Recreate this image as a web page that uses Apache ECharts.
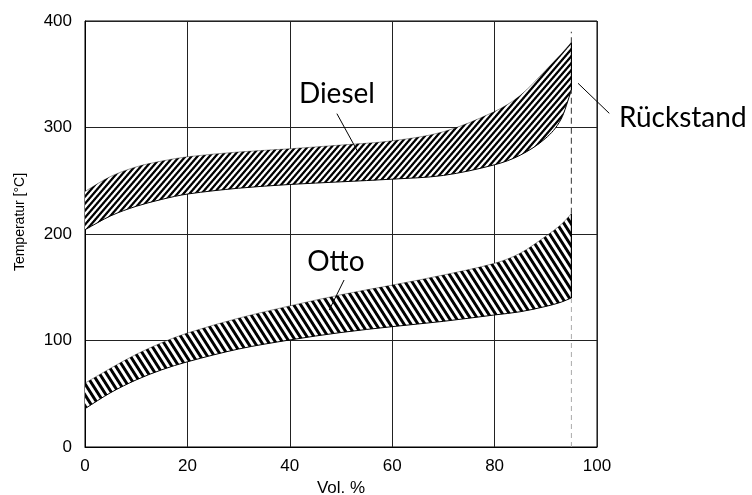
<!DOCTYPE html>
<html>
<head>
<meta charset="utf-8">
<script src="https://cdn.jsdelivr.net/npm/echarts@6/dist/echarts.min.js"></script>
<style>html,body{margin:0;padding:0;background:#fff}#c{width:752px;height:495px}</style>
</head>
<body>
<div id="c"></div>
<script>
// Data
var volPct = [0, 5, 10, 15, 20, 30, 40, 50, 60, 70, 80, 85, 90, 93, 95];
var dieselUpper = [240, 254, 263, 268.5, 272.5, 277, 280, 283.5, 287.5, 296, 315, 330, 354, 369, 380];
var dieselLower = [204, 217, 226, 232.5, 237.5, 243, 246.5, 249, 251.5, 255, 265, 274, 290, 308, 335];
var ottoUpper = [60, 74, 87, 98, 107, 121, 132.5, 143, 152, 161.5, 172.5, 182, 198, 209, 219];
var ottoLower = [36, 51, 63, 72.5, 80, 92, 100.5, 107.5, 113, 118, 124, 127, 132, 136, 140];
var xTicks = [0, 20, 40, 60, 80, 100];
var yTicks = [0, 100, 200, 300, 400];
var residueX = 95;
var residueTop = 390;

function makeHatch(P, H, dir) {
  var s = H / P;
  var cv = document.createElement('canvas');
  cv.width = P; cv.height = H;
  var ctx = cv.getContext('2d');
  var img = ctx.createImageData(P, H);
  var N = 4;
  for (var y = 0; y < H; y++) {
    for (var x = 0; x < P; x++) {
      var cov = 0;
      for (var sy = 0; sy < N; sy++) for (var sx = 0; sx < N; sx++) {
        var px = x + (sx + 0.5) / N, py = y + (sy + 0.5) / N;
        var ph = px + dir * py / s;
        ph = ((ph % P) + P) % P;
        if (ph < P * 0.5) cov++;
      }
      var v = Math.round(255 * (1 - cov / (N * N)));
      var i = (y * P + x) * 4;
      img.data[i] = v; img.data[i + 1] = v; img.data[i + 2] = v; img.data[i + 3] = 255;
    }
  }
  ctx.putImageData(img, 0, 0);
  return cv;
}
var hatchDiesel = makeHatch(6, 7, 1);
var hatchOtto = makeHatch(7, 11, -1);

// Smooth (cardinal) cubic through pixel points
function tangents(pts) {
  var n = pts.length, m = [];
  for (var i = 0; i < n; i++) {
    var a = pts[Math.max(i - 1, 0)], b = pts[Math.min(i + 1, n - 1)];
    m[i] = (b[1] - a[1]) / (b[0] - a[0]);
  }
  return m;
}
function curveCmds(pts) {
  var n = pts.length, m = tangents(pts);
  var s = 'M' + pts[0][0] + ' ' + pts[0][1];
  for (var i = 0; i < n - 1; i++) {
    var h = (pts[i + 1][0] - pts[i][0]) / 3;
    s += ' C' + (pts[i][0] + h) + ' ' + (pts[i][1] + m[i] * h) + ' ' +
      (pts[i + 1][0] - h) + ' ' + (pts[i + 1][1] - m[i + 1] * h) + ' ' +
      pts[i + 1][0] + ' ' + pts[i + 1][1];
  }
  return s;
}
function reversedCmds(pts) {
  var n = pts.length, m = tangents(pts);
  var s = 'L' + pts[n - 1][0] + ' ' + pts[n - 1][1];
  for (var i = n - 1; i > 0; i--) {
    var h = (pts[i][0] - pts[i - 1][0]) / 3;
    s += ' C' + (pts[i][0] - h) + ' ' + (pts[i][1] - m[i] * h) + ' ' +
      (pts[i - 1][0] + h) + ' ' + (pts[i - 1][1] + m[i - 1] * h) + ' ' +
      pts[i - 1][0] + ' ' + pts[i - 1][1];
  }
  return s;
}

function band(api, upper, lower, hatch) {
  var up = volPct.map(function (x, i) { return api.coord([x, upper[i]]); });
  var lo = volPct.map(function (x, i) { return api.coord([x, lower[i]]); });
  var fillPath = curveCmds(up) + ' ' + reversedCmds(lo) + ' Z';
  return [
    { type: 'path', shape: { pathData: fillPath }, style: { fill: { image: hatch, repeat: 'repeat' }, stroke: null }, z2: 2 },
    { type: 'path', shape: { pathData: curveCmds(lo) }, style: { fill: null, stroke: '#000', lineWidth: 1 }, z2: 3 },
    { type: 'path', shape: { pathData: curveCmds(up) }, style: { fill: null, stroke: '#000', lineWidth: 0.4 }, z2: 3 }
  ];
}
function vseg(api, y0, y1, color, dash, w) {
  var a = api.coord([residueX, y0]), b = api.coord([residueX, y1]);
  return { type: 'line', shape: { x1: a[0], y1: a[1], x2: b[0], y2: b[1] }, style: { stroke: color, lineWidth: w, lineDash: dash }, z2: 4 };
}

var chart = echarts.init(document.getElementById('c'), null, { renderer: 'canvas' });
var axisLabelFont = { fontFamily: 'Liberation Sans, Arial, sans-serif', fontSize: 17, color: '#000' };
var L = volPct.length - 1;

chart.setOption({
  animation: false,
  backgroundColor: '#fff',
  grid: { left: 85, right: 155, top: 21, bottom: 48, show: true, borderColor: '#000', borderWidth: 1, containLabel: false, outerBoundsMode: 'none' },
  xAxis: {
    type: 'value', min: 0, max: 100, interval: 20,
    name: 'Vol. %', nameLocation: 'middle', nameGap: 33,
    nameTextStyle: { fontFamily: 'Liberation Sans, Arial, sans-serif', fontSize: 17, color: '#000' },
    axisLine: { show: true, lineStyle: { color: '#000', width: 1 } },
    axisTick: { show: false },
    axisLabel: Object.assign({ margin: 11 }, axisLabelFont),
    splitLine: { show: true, lineStyle: { color: '#222', width: 1 } }
  },
  yAxis: {
    type: 'value', min: 0, max: 400, interval: 100,
    name: 'Temperatur [°C]', nameLocation: 'middle', nameGap: 58,
    nameTextStyle: { fontFamily: 'Liberation Sans, Arial, sans-serif', fontSize: 14, color: '#000', padding: [0, 0, 0, 24] },
    axisLine: { show: true, lineStyle: { color: '#000', width: 1 } },
    axisTick: { show: false },
    axisLabel: Object.assign({ margin: 13 }, axisLabelFont),
    splitLine: { show: true, lineStyle: { color: '#222', width: 1 } }
  },
  series: [{
    type: 'custom',
    data: [[0, 0]],
    clip: false,
    silent: true,
    renderItem: function (params, api) {
      var children = []
        .concat(band(api, dieselUpper, dieselLower, hatchDiesel))
        .concat(band(api, ottoUpper, ottoLower, hatchOtto));
      children.push(vseg(api, 0, ottoLower[L], '#aaa', [5, 4], 1));
      children.push(vseg(api, ottoLower[L], ottoUpper[L], '#000', null, 1.2));
      children.push(vseg(api, ottoUpper[L], dieselLower[L], '#555', [6, 4], 1.2));
      children.push(vseg(api, dieselLower[L], dieselUpper[L], '#000', null, 1.2));
      children.push(vseg(api, dieselUpper[L], residueTop, '#555', [5, 4], 1.2));
      return { type: 'group', children: children };
    }
  }]
});

// Annotations placed in data coordinates
var annFont = 'Lato, "Open Sans", sans-serif';
function P(x, y) { return chart.convertToPixel({ gridIndex: 0 }, [x, y]); }
function leader(a, b) {
  var p = P(a[0], a[1]), q = P(b[0], b[1]);
  return { type: 'line', shape: { x1: p[0], y1: p[1], x2: q[0], y2: q[1] }, style: { stroke: '#000', lineWidth: 1 }, z: 100 };
}
function label(txt, at, align) {
  var p = P(at[0], at[1]);
  return { type: 'text', x: p[0], y: p[1], style: { text: txt, font: '28px ' + annFont, fill: '#000', textAlign: align, textVerticalAlign: 'middle' }, z: 100 };
}
chart.setOption({
  graphic: [
    label('Diesel', [49.2, 331.5], 'center'),
    leader([49.2, 313], [53.3, 277]),
    label('Otto', [49.0, 173.7], 'center'),
    leader([50.6, 156.8], [47.7, 128.6]),
    label('Rückstand', [104.3, 308.5], 'left'),
    leader([96.3, 341.5], [102.4, 313.3])
  ]
});
</script>
</body>
</html>
